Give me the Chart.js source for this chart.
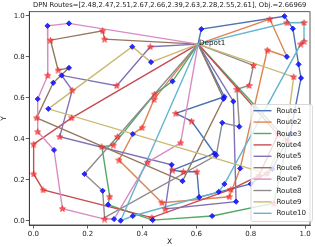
<!DOCTYPE html>
<html>
<head>
<meta charset="utf-8">
<script src="https://cdn.jsdelivr.net/npm/chart.js@4.4.0/dist/chart.umd.min.js"></script>
<style>
  html, body { margin: 0; padding: 0; background: #fff; }
  canvas { display: block; }
</style>
</head>
<body>
<canvas id="chart" width="315" height="247"></canvas>
<script>
// ---- data ----
const titleText = 'DPN Routes=[2.48,2.47,2.51,2.67,2.66,2.39,2.63,2.28,2.55,2.61], Obj.=2.66969';
const routeNames = ['Route1', 'Route2', 'Route3', 'Route4', 'Route5', 'Route6', 'Route7', 'Route8', 'Route9', 'Route10'];
const routeColors = ['#4C72B0', '#DD8452', '#55A868', '#C44E52', '#8172B3', '#937860', '#DA8BC3', '#8C8C8C', '#CCB974', '#64B5CD'];
const xTicks = [0, 0.2, 0.4, 0.6, 0.8, 1.0];
const yTicks = [0, 0.2, 0.4, 0.6, 0.8, 1.0];

const depot = [0.606, 0.862];

// every route leaves the depot and comes back to it
const route1 = [[0.618, 0.935], [0.924, 0.998], [0.955, 0.937], [0.976, 0.763], [0.985, 0.696], [0.945, 0.422], [0.879, 0.252], [0.80, 0.18], [0.610, 0.115], [0.602, 0.239], [0.552, 0.239], [0.512, 0.247], [0.667, 0.328], [0.582, 0.486], [0.524, 0.524], [0.703, 0.605]];
const route2 = [[0.870, 0.984], [0.933, 0.800], [0.861, 0.833], [0.761, 0.255], [0.721, 0.117], [0.473, 0.088], [0.315, 0.296], [0.366, 0.423], [0.400, 0.454], [0.444, 0.592]];
const route3 = [[0.512, 0.680], [0.446, 0.618], [0.294, 0.369], [0.252, 0.361], [0.281, 0.117], [0.275, 0.078], [0.439, 0.003], [0.658, 0.023], [0.885, 0.085], [0.935, 0.39]];
const route4 = [[0.141, 0.502], [0.001, 0.374], [0.001, 0.228], [0.036, 0.150], [0.436, 0.015], [0.727, 0.153], [0.83, 0.22], [0.90, 0.42]];
const route5 = [[0.430, 0.849], [0.307, 0.659], [0.104, 0.709], [0.143, 0.637], [0.097, 0.410], [0.509, 0.273], [0.485, 0.057], [0.746, 0.093], [0.736, 0.582]];
const route6 = [[0.262, 0.886], [0.255, 0.927], [0.063, 0.881], [0.091, 0.735], [0.131, 0.746], [0.073, 0.673], [0.012, 0.502], [0.549, 0.193], [0.700, 0.595]];
const route7 = [[0.131, 0.963], [0.052, 0.951], [0.053, 0.709], [0.016, 0.594], [0.016, 0.434], [0.076, 0.345], [0.107, 0.059], [0.262, 0.008], [0.297, 0.008], [0.420, 0.285], [0.542, 0.380]];
const route8 = [[0.810, 0.758], [0.794, 0.660], [0.749, 0.641], [0.758, 0.459], [0.695, 0.478], [0.673, 0.319], [0.262, 0.015], [0.255, 0.146], [0.188, 0.228], [0.309, 0.410]];
const route9 = [[0.433, 0.774], [0.364, 0.849], [0.055, 0.546], [0.86, 0.23], [0.93, 0.42], [0.958, 0.702]];
const route10 = [[0.933, 0.966], [0.996, 0.967], [0.996, 0.875], [0.984, 0.862], [0.703, 0.179], [0.682, 0.141], [0.366, 0.023], [0.321, 0.000]];

// pickup nodes (blue diamonds) and delivery nodes (red stars)
const pickups = [[0.052, 0.951], [0.131, 0.963], [0.131, 0.746], [0.104, 0.709], [0.073, 0.673], [0.016, 0.594], [0.055, 0.546], [0.076, 0.345], [0.188, 0.228], [0.255, 0.146], [0.275, 0.078], [0.297, 0.008], [0.321, 0.000], [0.366, 0.023], [0.439, 0.003], [0.658, 0.023], [0.364, 0.849], [0.433, 0.774], [0.512, 0.680], [0.618, 0.935], [0.924, 0.998], [0.955, 0.937], [0.933, 0.800], [0.976, 0.763], [0.985, 0.696], [0.703, 0.605], [0.700, 0.595], [0.736, 0.582], [0.695, 0.478], [0.758, 0.459], [0.366, 0.423], [0.509, 0.273], [0.549, 0.193], [0.667, 0.328], [0.673, 0.319], [0.610, 0.115], [0.682, 0.141], [0.703, 0.179], [0.761, 0.255], [0.746, 0.093], [0.945, 0.422], [0.879, 0.252], [0.80, 0.18]];
const deliveries = [[0.255, 0.927], [0.262, 0.886], [0.063, 0.881], [0.091, 0.735], [0.053, 0.709], [0.143, 0.637], [0.012, 0.502], [0.141, 0.502], [0.016, 0.434], [0.097, 0.410], [0.001, 0.374], [0.001, 0.228], [0.036, 0.150], [0.107, 0.059], [0.262, 0.008], [0.281, 0.117], [0.307, 0.659], [0.430, 0.849], [0.446, 0.618], [0.444, 0.592], [0.400, 0.454], [0.309, 0.410], [0.294, 0.369], [0.252, 0.361], [0.315, 0.296], [0.420, 0.285], [0.542, 0.380], [0.524, 0.524], [0.582, 0.486], [0.512, 0.247], [0.552, 0.239], [0.602, 0.239], [0.473, 0.088], [0.485, 0.057], [0.436, 0.015], [0.721, 0.117], [0.727, 0.153], [0.870, 0.984], [0.861, 0.833], [0.933, 0.966], [0.996, 0.967], [0.984, 0.862], [0.996, 0.875], [0.810, 0.758], [0.794, 0.660], [0.749, 0.641], [0.958, 0.702], [0.885, 0.085], [0.935, 0.39], [0.83, 0.22], [0.90, 0.42], [0.86, 0.23]];

const routes = [route1, route2, route3, route4, route5, route6, route7, route8, route9, route10];

// ---- helpers ----
const FONT = 'DejaVu Sans';
const toPts = arr => arr.map(p => ({ x: p[0], y: p[1] }));

// 5-point star used as point style for deliveries
function makeStar(size) {
  const c = document.createElement('canvas');
  c.width = size; c.height = size;
  const g = c.getContext('2d');
  const cx = size / 2, cy = size / 2 + 0.3, R = size / 2 - 0.4, r = R * 0.42;
  g.beginPath();
  for (let i = 0; i < 10; i++) {
    const rad = i % 2 === 0 ? R : r;
    const a = -Math.PI / 2 + i * Math.PI / 5;
    const px = cx + rad * Math.cos(a), py = cy + rad * Math.sin(a);
    if (i === 0) g.moveTo(px, py); else g.lineTo(px, py);
  }
  g.closePath();
  g.fillStyle = 'rgba(255,70,70,0.7)';
  g.fill();
  g.strokeStyle = 'rgba(240,10,10,0.95)';
  g.lineWidth = 0.7;
  g.stroke();
  return c;
}

const datasets = [];
datasets.push({
  label: 'pickups', data: toPts(pickups), showLine: false,
  pointStyle: 'rectRot', pointRadius: 2.6, pointHoverRadius: 2.6,
  backgroundColor: 'rgba(25,25,255,0.9)', borderColor: '#0000ee', borderWidth: 0.7, order: -2
});
datasets.push({
  label: 'deliveries', data: toPts(deliveries), showLine: false,
  pointStyle: makeStar(7), pointRadius: 3.5, order: -1
});
routes.forEach((r, i) => {
  datasets.push({
    label: routeNames[i],
    data: toPts([depot, ...r, depot]),
    showLine: true, fill: false,
    borderColor: routeColors[i], backgroundColor: routeColors[i],
    borderWidth: 1.4, pointRadius: 0, pointHoverRadius: 0,
    order: 10 - i
  });
});

// title, frame, axis names, depot label and legend
const decor = {
  id: 'decor',
  afterDraw(chart) {
    const { ctx, chartArea: a, scales } = chart;
    ctx.save();
    ctx.strokeStyle = '#333';
    ctx.lineWidth = 0.8;
    ctx.strokeRect(a.left, a.top, a.right - a.left, a.bottom - a.top);

    ctx.fillStyle = '#222';
    ctx.font = '6.8px "' + FONT + '"';
    ctx.textAlign = 'center';
    ctx.textBaseline = 'middle';
    ctx.fillText(titleText, (a.left + a.right) / 2, 5.5);

    ctx.font = '7.5px "' + FONT + '"';
    ctx.fillText('X', (a.left + a.right) / 2, 242);
    ctx.save();
    ctx.translate(4.5, (a.top + a.bottom) / 2);
    ctx.rotate(-Math.PI / 2);
    ctx.fillText('Y', 0, 0);
    ctx.restore();

    // depot label
    ctx.font = '7.2px "' + FONT + '"';
    ctx.textAlign = 'left';
    ctx.textBaseline = 'alphabetic';
    ctx.fillStyle = '#111';
    ctx.fillText('Depot1', scales.x.getPixelForValue(depot[0]) + 1, scales.y.getPixelForValue(depot[1]) + 0.5);

    // legend box
    const bx = 251, by = 104.5, bw = 61.5, bh = 117;
    ctx.beginPath();
    ctx.roundRect(bx, by, bw, bh, 2);
    ctx.fillStyle = 'rgba(255,255,255,0.8)';
    ctx.fill();
    ctx.strokeStyle = '#d0d0d0';
    ctx.lineWidth = 0.8;
    ctx.stroke();
    ctx.font = '7.1px "' + FONT + '"';
    ctx.textBaseline = 'middle';
    routeNames.forEach((name, i) => {
      const yy = 110.7 + i * 11.4;
      ctx.beginPath();
      ctx.moveTo(253.5, yy);
      ctx.lineTo(271.5, yy);
      ctx.strokeStyle = routeColors[i];
      ctx.lineWidth = 1.4;
      ctx.stroke();
      ctx.fillStyle = '#222';
      ctx.fillText(name, 276.5, yy + 0.3);
    });
    ctx.restore();
  }
};

const axisCommon = {
  type: 'linear',
  grid: { display: true, drawOnChartArea: false, drawTicks: true, tickLength: 3.5, color: '#333', lineWidth: 0.8 },
  border: { display: true, color: '#333', width: 0.8 },
  ticks: { color: '#222', font: { family: FONT, size: 7 }, padding: 1, autoSkip: false, maxRotation: 0,
           callback: v => Number(v).toFixed(1) }
};

new Chart(document.getElementById('chart'), {
  type: 'scatter',
  data: { datasets },
  options: {
    responsive: false,
    animation: false,
    events: [],
    layout: { padding: { top: 11.7, right: 1.7, left: 0, bottom: 0 } },
    plugins: { legend: { display: false }, title: { display: false }, tooltip: { enabled: false } },
    scales: {
      x: Object.assign({}, axisCommon, {
        min: -0.015, max: 1.018,
        afterBuildTicks: s => { s.ticks = xTicks.map(v => ({ value: v })); },
        afterFit: s => { s.height = 22; }
      }),
      y: Object.assign({}, axisCommon, {
        min: -0.021, max: 1.02,
        afterBuildTicks: s => { s.ticks = yTicks.map(v => ({ value: v })); },
        afterFit: s => { s.width = 29.3; }
      })
    }
  },
  plugins: [decor]
});
</script>
</body>
</html>
